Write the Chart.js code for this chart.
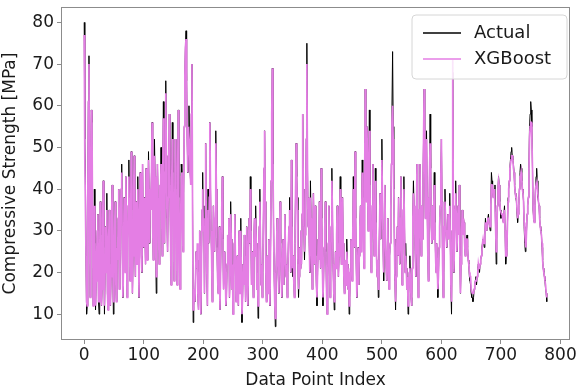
<!DOCTYPE html>
<html>
<head>
<meta charset="utf-8">
<script src="https://cdn.jsdelivr.net/npm/chart.js@4.4.1/dist/chart.umd.min.js"></script>
<style>
  html, body { margin: 0; padding: 0; background: #fff; }
  canvas { display: block; }
</style>
</head>
<body>
<canvas id="chart" width="579" height="391"></canvas>
<script>
// values, index 0..777
const actual = [
  80, 52, 42, 24, 10, 12, 38, 61, 72, 31,
  14, 44, 59, 56, 33, 12, 21, 40, 27, 11,
  18, 25, 30, 34, 13, 10, 24, 37, 29, 12,
  16, 33, 42, 26, 10, 20, 31, 28, 39, 15,
  11, 27, 35, 22, 12, 19, 33, 41, 24, 10,
  21, 30, 37, 18, 13, 26, 23, 33, 40, 16,
  21, 35, 40, 46, 25, 14, 22, 38, 31, 20,
  43, 27, 14, 28, 36, 47, 30, 18, 33, 49,
  35, 15, 24, 40, 48, 27, 19, 37, 30, 22,
  43, 31, 14, 29, 44, 36, 24, 20, 46, 33,
  26, 38, 30, 22, 45, 34, 23, 31, 49, 38,
  27, 40, 35, 44, 56, 31, 23, 39, 52, 43,
  26, 15, 34, 46, 38, 28, 22, 41, 35, 50,
  36, 24, 45, 61, 39, 27, 44, 66, 48, 33,
  25, 38, 47, 58, 41, 28, 17, 42, 56, 44,
  30, 18, 35, 52, 40, 27, 17, 45, 59, 38,
  23, 16, 33, 46, 44, 30, 25, 39, 55, 67,
  74, 78, 66, 52, 44, 55, 60, 50, 44, 41,
  58, 70, 35, 8, 12, 16, 13, 19, 25, 21,
  23, 14, 11, 20, 30, 18, 10, 24, 35, 44,
  30, 36, 15, 28, 51, 33, 20, 12, 40, 27,
  38, 56, 42, 30, 24, 13, 20, 36, 36, 25,
  33, 54, 40, 26, 19, 15, 24, 31, 11, 20,
  30, 35, 43, 28, 16, 21, 25, 19, 12, 15,
  22, 29, 26, 33, 14, 20, 37, 28, 16, 22,
  10, 19, 27, 34, 23, 13, 15, 24, 18, 12,
  30, 21, 15, 33, 19, 8, 14, 22, 17, 29,
  24, 13, 18, 31, 20, 12, 26, 33, 27, 43,
  30, 17, 25, 22, 14, 28, 33, 24, 36, 27,
  16, 20, 9, 25, 31, 40, 28, 17, 22, 14,
  20, 33, 45, 54, 37, 21, 13, 18, 24, 15,
  28, 19, 12, 26, 42, 58, 69, 46, 32, 20,
  13, 7, 18, 25, 33, 23, 19, 15, 26, 37,
  27, 19, 14, 21, 28, 17, 24, 34, 26, 19,
  22, 14, 20, 27, 31, 38, 29, 20, 47, 31,
  19, 24, 18, 14, 27, 39, 51, 43, 38, 22,
  14, 19, 26, 21, 30, 22, 34, 58, 40, 31,
  23, 29, 35, 52, 75, 46, 31, 38, 27, 20,
  42, 33, 25, 16, 27, 39, 30, 22, 36, 24,
  17, 12, 20, 28, 23, 37, 30, 21, 45, 33,
  22, 12, 18, 26, 30, 37, 25, 16, 10, 19,
  27, 36, 24, 14, 20, 31, 45, 34, 22, 16,
  11, 18, 25, 21, 29, 36, 27, 19, 24, 33,
  43, 30, 22, 26, 38, 27, 20, 15, 19, 23,
  17, 28, 22, 16, 21, 10, 14, 20, 28, 24,
  18, 27, 43, 35, 26, 49, 33, 22, 14, 20,
  26, 17, 24, 31, 36, 25, 33, 47, 38, 28,
  21, 40, 64, 48, 37, 55, 42, 30, 46, 59,
  41, 29, 20, 27, 36, 46, 33, 24, 31, 45,
  32, 24, 19, 23, 14, 22, 31, 39, 28, 36,
  52, 38, 27, 18, 30, 41, 29, 22, 18, 25,
  33, 21, 16, 24, 27, 35, 46, 60, 73, 55,
  40, 28, 18, 11, 19, 26, 31, 24, 38, 29,
  22, 33, 43, 27, 17, 24, 35, 43, 31, 20,
  27, 21, 16, 19, 10, 15, 20, 24, 18, 14,
  12, 21, 33, 42, 36, 32, 25, 19, 34, 46,
  28, 14, 22, 35, 46, 31, 24, 36, 28, 41,
  52, 64, 47, 33, 40, 54, 38, 26, 18, 29,
  44, 58, 45, 31, 27, 36, 28, 35, 44, 32,
  25, 20, 27, 22, 14, 19, 26, 31, 36, 43,
  52, 37, 22, 14, 20, 31, 40, 33, 29, 26,
  30, 34, 28, 33, 39, 27, 16, 10, 30, 68,
  36, 20, 28, 35, 42, 33, 25, 30, 36, 29,
  41, 24, 15, 22, 30, 35, 29, 33, 32, 27,
  24, 26, 28, 29, 26, 23, 22, 19, 18, 17,
  15, 14, 14, 13, 14, 16, 17, 18, 19, 17,
  19, 21, 22, 21, 20, 22, 23, 24, 26, 27,
  28, 27, 26, 29, 33, 31, 30, 32, 33, 34,
  32, 31, 30, 36, 44, 42, 40, 38, 39, 40,
  41, 30, 22, 28, 36, 40, 43, 41, 37, 35,
  33, 34, 34, 33, 32, 34, 36, 30, 22, 24,
  26, 32, 38, 40, 42, 45, 47, 49, 50, 48,
  47, 46, 44, 41, 39, 38, 37, 34, 32, 34,
  36, 40, 44, 46, 45, 42, 40, 39, 37, 31,
  27, 25, 26, 30, 34, 36, 38, 45, 55, 58,
  61, 59, 55, 45, 35, 33, 32, 36, 40, 43,
  45, 42, 38, 37, 36, 33, 31, 30, 29, 26,
  23, 21, 20, 19, 18, 16, 15, 13
];

const xgboost = [
  77, 47, 36, 24, 13, 12, 38, 61, 70, 31,
  14, 44, 59, 56, 33, 12, 21, 36, 27, 12,
  18, 25, 30, 34, 13, 13, 24, 37, 29, 12,
  16, 33, 42, 26, 12, 20, 31, 28, 35, 15,
  11, 27, 35, 22, 12, 19, 33, 41, 24, 13,
  21, 30, 37, 18, 13, 26, 23, 33, 40, 16,
  21, 35, 40, 44, 25, 14, 22, 38, 31, 20,
  43, 27, 14, 28, 36, 43, 30, 18, 33, 49,
  35, 15, 24, 40, 48, 27, 19, 37, 30, 22,
  40, 31, 14, 29, 44, 36, 24, 20, 46, 33,
  26, 38, 30, 22, 45, 34, 23, 31, 47, 38,
  27, 40, 35, 44, 56, 31, 23, 39, 48, 43,
  26, 19, 34, 46, 38, 28, 22, 41, 35, 46,
  36, 24, 45, 57, 39, 27, 44, 63, 48, 33,
  25, 38, 47, 58, 41, 28, 17, 42, 52, 44,
  30, 18, 35, 52, 40, 27, 17, 45, 59, 38,
  23, 16, 33, 43, 44, 30, 25, 39, 55, 67,
  74, 76, 66, 52, 44, 55, 55, 50, 44, 41,
  58, 70, 35, 11, 12, 16, 13, 19, 25, 21,
  27, 14, 11, 20, 30, 18, 10, 24, 35, 40,
  30, 33, 15, 28, 51, 33, 20, 12, 35, 27,
  38, 56, 42, 30, 24, 13, 20, 36, 36, 25,
  33, 51, 40, 26, 19, 15, 24, 31, 11, 20,
  30, 35, 43, 28, 16, 21, 25, 19, 12, 15,
  22, 29, 26, 33, 14, 20, 34, 28, 16, 22,
  10, 19, 27, 34, 23, 13, 15, 24, 18, 12,
  30, 21, 15, 30, 19, 10, 14, 22, 17, 29,
  24, 13, 18, 31, 20, 12, 26, 33, 27, 40,
  30, 17, 25, 22, 14, 28, 33, 24, 33, 27,
  16, 20, 12, 25, 31, 37, 28, 17, 22, 14,
  20, 33, 45, 54, 37, 21, 13, 18, 24, 15,
  28, 19, 12, 26, 42, 58, 69, 46, 32, 20,
  13, 9, 18, 25, 33, 23, 19, 15, 26, 37,
  27, 19, 14, 21, 28, 17, 24, 34, 26, 19,
  22, 14, 20, 27, 31, 35, 29, 20, 47, 31,
  21, 24, 18, 14, 27, 39, 51, 43, 35, 22,
  16, 19, 26, 21, 30, 22, 34, 58, 40, 31,
  25, 29, 35, 52, 70, 46, 31, 38, 27, 20,
  38, 33, 25, 16, 27, 39, 30, 22, 36, 24,
  17, 14, 20, 28, 23, 37, 30, 21, 45, 33,
  22, 14, 18, 26, 30, 37, 25, 16, 10, 19,
  27, 36, 24, 14, 20, 31, 42, 34, 22, 16,
  13, 18, 25, 21, 29, 36, 27, 19, 24, 33,
  40, 30, 22, 26, 38, 27, 20, 15, 19, 23,
  17, 25, 22, 16, 21, 12, 14, 20, 28, 24,
  18, 27, 40, 35, 26, 49, 33, 22, 14, 20,
  26, 17, 24, 31, 36, 25, 33, 44, 38, 28,
  21, 40, 64, 48, 37, 55, 42, 30, 46, 54,
  41, 29, 20, 27, 36, 46, 33, 24, 31, 42,
  32, 24, 19, 23, 16, 22, 31, 39, 28, 36,
  47, 38, 27, 20, 30, 41, 29, 22, 18, 25,
  33, 21, 16, 24, 27, 35, 46, 56, 60, 52,
  40, 28, 18, 13, 19, 26, 31, 24, 38, 29,
  22, 33, 43, 27, 17, 24, 35, 40, 31, 20,
  24, 21, 16, 19, 12, 15, 20, 21, 18, 14,
  12, 21, 33, 39, 36, 32, 25, 19, 34, 46,
  28, 14, 22, 35, 46, 31, 24, 36, 28, 41,
  52, 64, 47, 33, 40, 52, 38, 26, 18, 29,
  44, 51, 45, 31, 27, 36, 28, 35, 41, 32,
  25, 20, 27, 22, 16, 19, 26, 31, 36, 43,
  52, 37, 22, 14, 20, 31, 37, 33, 29, 26,
  30, 34, 28, 33, 36, 27, 16, 13, 30, 71,
  36, 20, 28, 35, 39, 33, 25, 30, 36, 29,
  41, 24, 15, 22, 30, 35, 29, 33, 32, 27,
  24, 26, 28, 28, 26, 23, 22, 20, 19, 19,
  16, 16, 15, 15, 15, 16, 17, 18, 18, 18,
  19, 20, 22, 21, 21, 22, 23, 24, 25, 27,
  28, 27, 27, 29, 32, 31, 30, 32, 33, 33,
  32, 31, 31, 36, 41, 41, 40, 38, 39, 40,
  40, 31, 25, 28, 36, 40, 42, 41, 37, 35,
  35, 34, 34, 33, 32, 34, 35, 30, 24, 24,
  26, 32, 37, 40, 42, 45, 46, 47, 48, 48,
  47, 45, 44, 41, 39, 38, 38, 35, 33, 34,
  36, 40, 43, 43, 44, 42, 40, 39, 37, 32,
  30, 27, 26, 30, 34, 36, 38, 44, 52, 55,
  56, 56, 52, 45, 36, 33, 32, 36, 40, 41,
  40, 41, 41, 37, 36, 33, 31, 30, 29, 27,
  23, 21, 20, 19, 18, 17, 15, 14
];

const seriesNames = ['Actual', 'XGBoost'];
const seriesColors = ['#000000', '#e47ee4'];
const xTickValues = [0, 100, 200, 300, 400, 500, 600, 700, 800];
const yTickValues = [10, 20, 30, 40, 50, 60, 70, 80];

const FONT = 'DejaVu Sans';
const spineColor = '#8c8c8c';

function toPoints(values) {
  return values.map((v, i) => ({ x: i, y: v }));
}

// top/right spines and the boxed legend inside the plot (matplotlib style)
const framePlugin = {
  id: 'frame',
  afterDraw(chart) {
    const ctx = chart.ctx;
    const a = chart.chartArea;
    ctx.save();
    ctx.strokeStyle = spineColor;
    ctx.lineWidth = 1;
    ctx.strokeRect(a.left + 0.5, a.top + 0.5, a.right - a.left - 1, a.bottom - a.top - 1);

    // legend box
    const bx = 412, by = 15, bw = 155, bh = 64, r = 4;
    ctx.beginPath();
    ctx.moveTo(bx + r, by);
    ctx.arcTo(bx + bw, by, bx + bw, by + bh, r);
    ctx.arcTo(bx + bw, by + bh, bx, by + bh, r);
    ctx.arcTo(bx, by + bh, bx, by, r);
    ctx.arcTo(bx, by, bx + bw, by, r);
    ctx.closePath();
    ctx.fillStyle = 'rgba(255,255,255,0.8)';
    ctx.fill();
    ctx.strokeStyle = '#d6d6d6';
    ctx.stroke();

    ctx.font = '18px "' + FONT + '"';
    ctx.textBaseline = 'middle';
    ctx.fillStyle = '#1a1a1a';
    seriesNames.forEach((name, i) => {
      const y = 33 + i * 26;
      ctx.beginPath();
      ctx.moveTo(423, y);
      ctx.lineTo(461, y);
      ctx.strokeStyle = seriesColors[i];
      ctx.lineWidth = 1.3;
      ctx.stroke();
      ctx.fillText(name, 474, y);
    });
    ctx.restore();
  }
};

new Chart(document.getElementById('chart'), {
  type: 'line',
  data: {
    datasets: [
      {
        label: seriesNames[1],
        data: toPoints(xgboost),
        borderColor: seriesColors[1],
        borderWidth: 1.7,
        pointRadius: 0,
        tension: 0,
        order: 0
      },
      {
        label: seriesNames[0],
        data: toPoints(actual),
        borderColor: seriesColors[0],
        borderWidth: 1,
        pointRadius: 0,
        tension: 0,
        order: 1
      }
    ]
  },
  options: {
    responsive: false,
    animation: false,
    devicePixelRatio: 1,
    layout: { padding: { top: 0, right: 9, left: 0, bottom: 0 } },
    plugins: {
      legend: { display: false },
      tooltip: { enabled: false }
    },
    scales: {
      x: {
        type: 'linear',
        min: -39,
        max: 816,
        afterBuildTicks: (s) => { s.ticks = xTickValues.map(v => ({ value: v })); },
        afterFit: (s) => { s.height = 51; },
        grid: { display: true, drawOnChartArea: false, drawTicks: true, tickLength: 4, color: spineColor },
        border: { display: false },
        ticks: { font: { family: FONT, size: 17 }, color: '#1a1a1a', padding: 1, maxRotation: 0, autoSkip: false },
        title: { display: true, text: 'Data Point Index', font: { family: FONT, size: 17 }, color: '#1a1a1a', padding: { top: 0, bottom: 0 } }
      },
      y: {
        type: 'linear',
        min: 3.8,
        max: 83.7,
        afterBuildTicks: (s) => { s.ticks = yTickValues.map(v => ({ value: v })); },
        afterFit: (s) => { s.width = 61; },
        grid: { display: true, drawOnChartArea: false, drawTicks: true, tickLength: 4, color: spineColor },
        border: { display: false },
        ticks: { font: { family: FONT, size: 17, lineHeight: 0.47 }, color: '#1a1a1a', padding: 3, autoSkip: false },
        title: { display: true, text: 'Compressive Strength [MPa]', font: { family: FONT, size: 17 }, color: '#1a1a1a', padding: { top: 0, bottom: 1 } }
      }
    }
  },
  plugins: [framePlugin]
});
</script>
</body>
</html>
